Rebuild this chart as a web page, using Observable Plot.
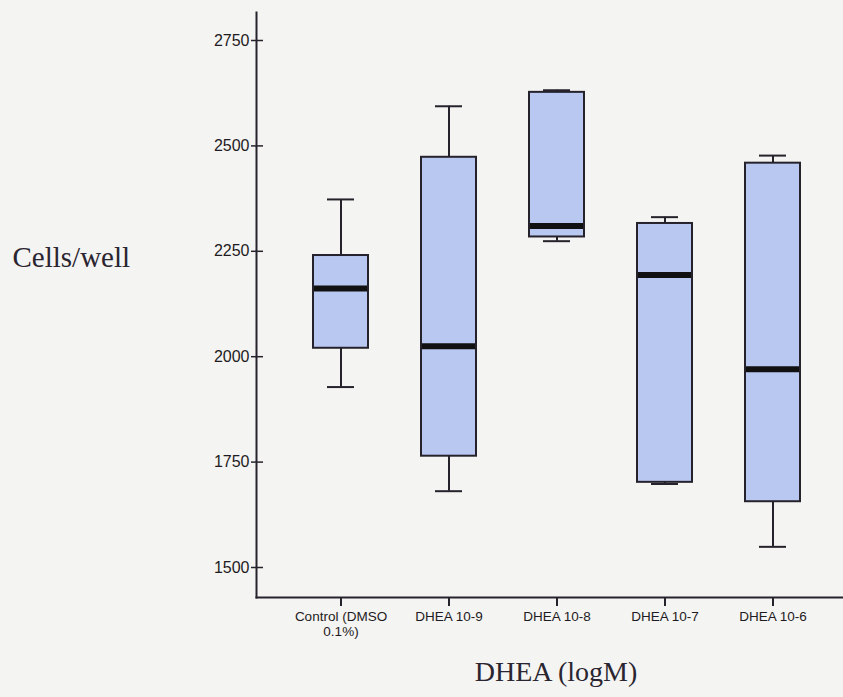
<!DOCTYPE html>
<html>
<head>
<meta charset="utf-8">
<script src="https://cdn.jsdelivr.net/npm/d3@7"></script>
<script src="https://cdn.jsdelivr.net/npm/@observablehq/plot@0.6"></script>
<style>
  html, body { margin: 0; padding: 0; background: #f4f4f2; }
  #chart { width: 843px; height: 697px; }
</style>
</head>
<body>
<div id="chart"></div>
<script>
// Treatment groups (x axis)
const categories = ["Control (DMSO\n0.1%)", "DHEA 10-9", "DHEA 10-8", "DHEA 10-7", "DHEA 10-6"];
// Box plot statistics, cells per well
const whiskerLow  = [1928, 1681, 2274, 1698, 1549];
const quartile1   = [2020, 1764, 2284, 1702, 1656];
const median      = [2162, 2025, 2310, 2194, 1970];
const quartile3   = [2240, 2473, 2627, 2316, 2459];
const whiskerHigh = [2373, 2594, 2632, 2331, 2477];
// Y axis tick values
const yTicks = [1500, 1750, 2000, 2250, 2500, 2750];

const groups = categories.map((c, i) => ({
  group: c,
  lo: whiskerLow[i], q1: quartile1[i], med: median[i], q3: quartile3[i], hi: whiskerHigh[i]
}));

const width = 843, height = 697;
const marginLeft = 256, marginRight = 0, marginTop = 12, marginBottom = 100;
const ink = "#26222c";
const boxFill = "#b9c8f1";
const serif = "'Liberation Serif', 'Times New Roman', serif";

const chart = Plot.plot({
  width, height, marginLeft, marginRight, marginTop, marginBottom,
  style: { background: "#f4f4f2", fontFamily: "'Liberation Sans', Arial, sans-serif", color: "#1e1b22" },
  x: { type: "band", domain: categories, range: [256, 856.5], paddingInner: 0.495, paddingOuter: 0.505 },
  y: { domain: [1500, 2750], range: [567, 40] },
  marks: [
    // axis lines (left and bottom only)
    Plot.frame({ anchor: "left", stroke: ink, strokeWidth: 2 }),
    Plot.frame({ anchor: "bottom", stroke: ink, strokeWidth: 2 }),
    // whiskers
    Plot.ruleX(groups, { x: "group", y1: "lo", y2: "q1", stroke: ink, strokeWidth: 2 }),
    Plot.ruleX(groups, { x: "group", y1: "q3", y2: "hi", stroke: ink, strokeWidth: 2 }),
    Plot.tickY(groups, { x: "group", y: "lo", stroke: ink, strokeWidth: 2, inset: 14 }),
    Plot.tickY(groups, { x: "group", y: "hi", stroke: ink, strokeWidth: 2, inset: 14 }),
    // interquartile boxes
    Plot.barY(groups, { x: "group", y1: "q1", y2: "q3", fill: boxFill, stroke: ink, strokeWidth: 2 }),
    // medians
    Plot.tickY(groups, { x: "group", y: "med", stroke: "#111", strokeWidth: 6, insetLeft: 1, insetRight: 1 }),
    // y axis: ticks cross the axis line
    Plot.axisY({ ticks: yTicks, tickSize: 5, tickPadding: 2, fontSize: 16, label: null, stroke: ink, strokeWidth: 1.5, tickFormat: d => String(d) }),
    Plot.tickY(yTicks, { y: d => d, stroke: ink, strokeWidth: 1.5, insetRight: width - marginLeft - marginRight - 7 }),
    // x axis
    Plot.axisX({ tickSize: 9, tickPadding: 3, fontSize: 13.5, lineHeight: 1.15, label: null, stroke: ink, strokeWidth: 2 }),
    // axis titles
    Plot.text(["Cells/well"], {
      frameAnchor: "left", text: d => d, dx: -244, dy: -47, textAnchor: "start",
      fontFamily: serif, fontSize: 29, fill: "#2a2530"
    }),
    Plot.text(["DHEA (logM)"], {
      frameAnchor: "bottom", text: d => d, dx: 6, dy: 83,
      fontFamily: serif, fontSize: 28, fill: "#2a2530"
    })
  ]
});

document.getElementById("chart").appendChild(chart);
</script>
</body>
</html>
